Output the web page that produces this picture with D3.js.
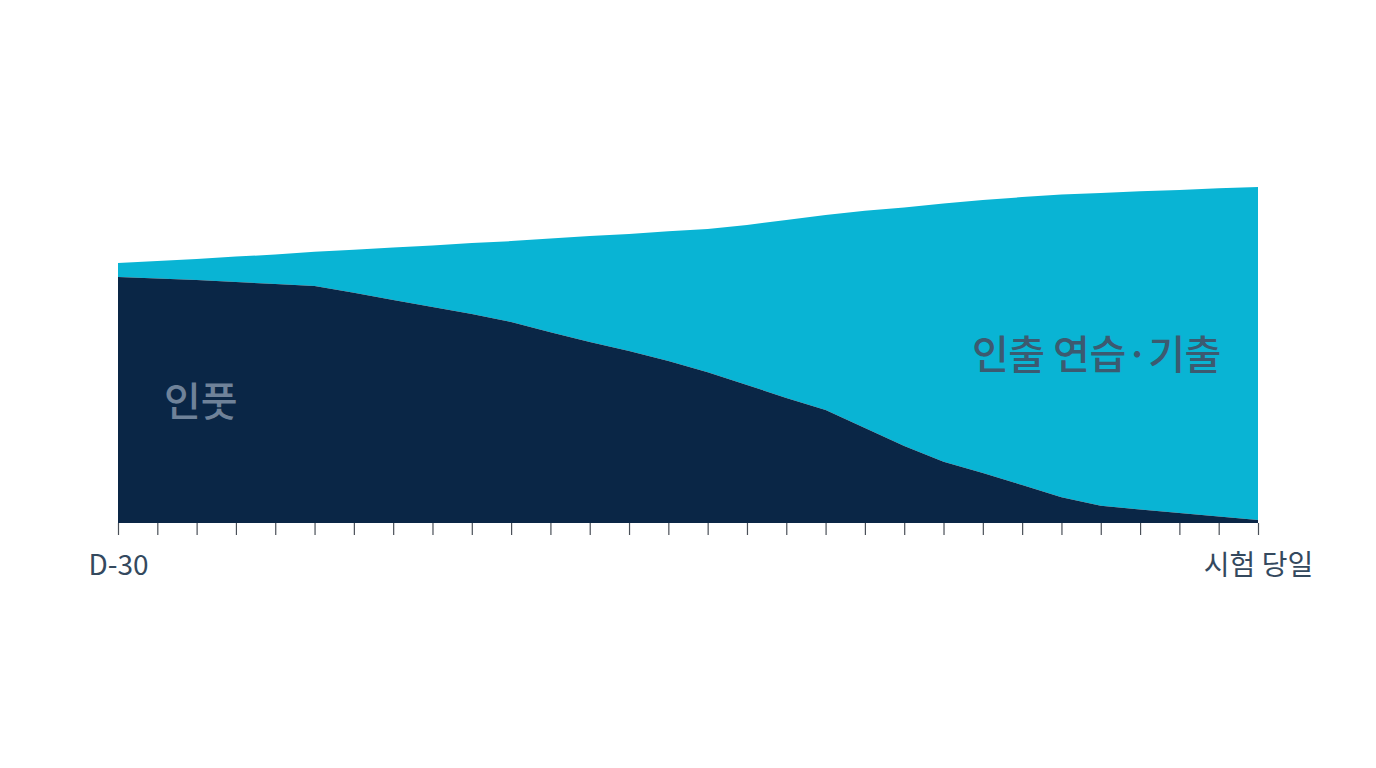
<!DOCTYPE html>
<html>
<head>
<meta charset="utf-8">
<script src="https://cdn.jsdelivr.net/npm/d3@7"></script>
<style>
  html, body { margin: 0; padding: 0; background: #ffffff; }
  svg { display: block; }
</style>
</head>
<body>
<svg id="chart" width="1376" height="768"></svg>
<script>
// Days before the exam (index 0 = D-30, last = exam day)
const days = [0,1,2,3,4,5,6,7,8,9,10,11,12,13,14,15,16,17,18,19,20,21,22,23,24,25,26,27,28,29];
// Input study share (bottom layer)
const inputValues = [73.2,72.8,72.3,71.7,71.1,70.5,68.5,66.4,64.3,62.2,59.8,56.8,53.9,51.2,48.2,44.9,41.1,37.2,33.6,28.3,22.9,18.2,14.9,11.3,7.7,5.1,4.0,3.0,1.9,0.9];
// Retrieval practice / past exams (top layer)
const retrievalValues = [4.2,5.2,6.3,7.6,8.8,10.2,12.8,15.6,18.3,21.1,24.1,27.9,31.5,34.8,38.6,42.6,47.6,53.0,58.1,64.6,71.0,76.9,81.2,85.7,90.1,93.1,94.7,96.1,97.7,99.1];
const seriesNames = ["인풋", "인출 연습·기출"];
const tickLabels = { 0: "D-30", 29: "시험 당일" };

const svg = d3.select("#chart");
const x = d3.scaleLinear().domain([0, 29]).range([118, 1258]);
const y = d3.scaleLinear().domain([0, 100]).range([523, 187]);

const table = days.map((d, i) => ({ day: d, input: inputValues[i], retrieval: retrievalValues[i] }));
const stack = d3.stack().keys(["input", "retrieval"]);
const layers = stack(table);
const colors = ["#0a2646", "#09b4d4"];

const area = d3.area()
  .x(d => x(d.data.day))
  .y0(d => y(d[0]))
  .y1(d => y(d[1]))
  .curve(d3.curveLinear);

svg.append("g").selectAll("path")
  .data(layers.slice().reverse())
  .join("path")
  .attr("d", area)
  .attr("fill", (d) => colors[d.index]);

// axis
const axis = d3.axisBottom(x)
  .tickValues(days)
  .tickSize(12)
  .tickPadding(20)
  .tickFormat(d => tickLabels[d] || "");
const ag = svg.append("g").attr("transform", "translate(0,523)").call(axis);
ag.select(".domain").remove();
ag.selectAll(".tick line").attr("stroke", "#4a5058").attr("stroke-width", 1.2);
ag.selectAll(".tick text")
  .attr("fill", "#34495e")
  .style("font-family", "'Noto Sans CJK KR', 'Noto Sans', sans-serif")
  .style("font-size", "28px")
  .attr("dy", "0.71em");

// series labels
svg.append("text")
  .attr("x", 164).attr("y", 416)
  .attr("fill", "#6f8299")
  .style("font-family", "'Noto Sans CJK KR', sans-serif")
  .style("font-size", "40px")
  .style("font-weight", 500)
  .text(seriesNames[0]);

svg.append("text")
  .attr("x", 972).attr("y", 369)
  .attr("fill", "#3c5a70")
  .style("font-family", "'Noto Sans CJK KR', sans-serif")
  .style("font-size", "40px")
  .style("font-weight", 500)
  .style("letter-spacing", "-0.5px")
  .text(seriesNames[1]);
</script>
</body>
</html>
